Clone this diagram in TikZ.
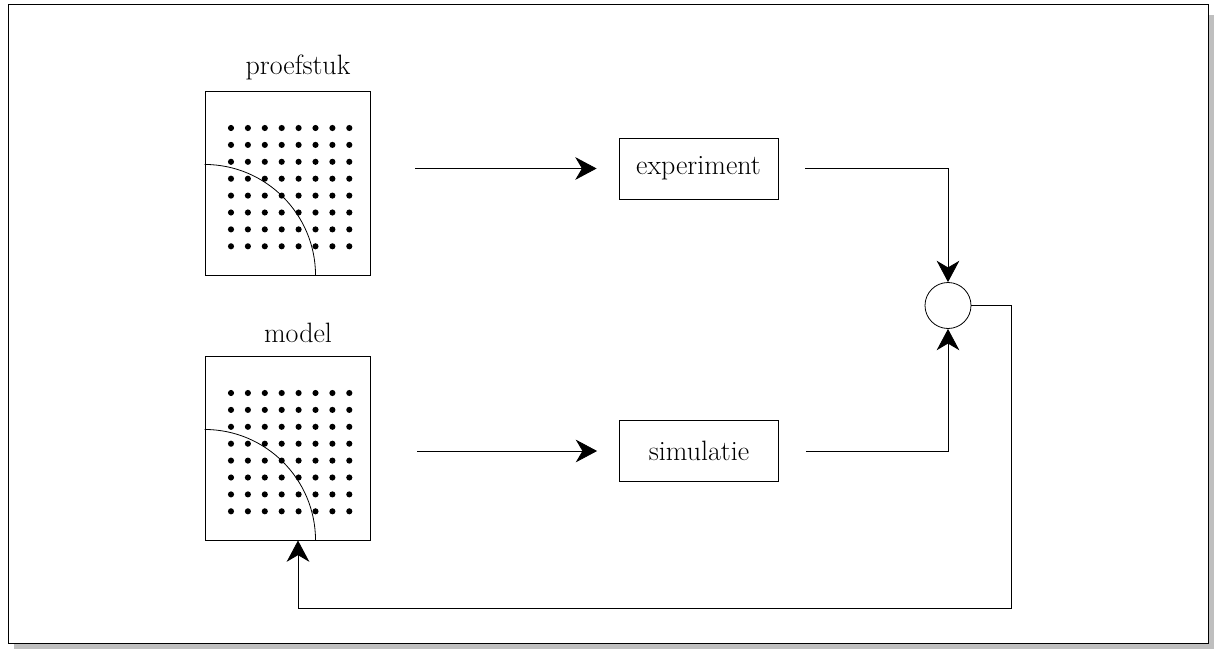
\documentclass[tikz,border=0pt]{standalone}
\usetikzlibrary{arrows.meta,calc}
\begin{document}
\begin{tikzpicture}[x=0.75pt,y=0.75pt,
    every node/.style={font=\fontsize{21}{25}\selectfont},
    plaat/.style={draw,line width=0.7pt,minimum width=123.75pt,minimum height=138pt,inner sep=0pt},
    blok/.style={draw,line width=0.6pt,minimum width=119.25pt,minimum height=45.75pt,inner sep=0pt},
    som/.style={draw,circle,line width=0.6pt,minimum size=34.5pt,inner sep=0pt},
    pijl/.style={line width=0.6pt,-{Stealth[length=16pt,width=17pt,inset=5pt]}}]
        \pgfmathsetmacro{\dotStep}{16.9}
        \pgfmathsetmacro{\arcRadius}{111}
        \useasboundingbox (0,0) rectangle (1216,-649);
        % frame with shadow
        \fill[gray!50] (14,-15) rectangle (1214,-649);
        \filldraw[fill=white,line width=0.7pt] (8,-4) rectangle (1208,-643);
        % plates
        \node[plaat] (proef) at (287.5,-183) {};
        \node[plaat] (model) at (287.5,-448) {};
        \node[anchor=base] (proeflabel) at (298,-75) {proefstuk};
        \node[anchor=base] (modellabel) at (298,-342) {model};
        \foreach \p/\top in {proef/128,model/393}{
            \foreach \i in {0,...,7}
                \foreach \j in {0,...,7}
                    \fill (231+\i*\dotStep,-\top-\j*\dotStep) circle[radius=2.3pt];
            \draw[line width=0.6pt] (\p.south west) ++(0,\arcRadius) arc[start angle=90,end angle=0,radius=\arcRadius*0.75pt];
        }
        % blocks
        \node[blok] (exp) at (698.5,-168.5) {experiment};
        \node[blok] (sim) at (699,-451) {simulatie};
        \node[som] (sum) at (948,-305.5) {};
        \coordinate (terug) at (298,-608);
        % connections
        \draw[pijl,shorten <=33.75pt,shorten >=16.5pt] (proef.east |- exp.west) -- (exp.west);
        \draw[pijl,shorten <=35pt,shorten >=16.5pt] (model.east |- sim.west) -- (sim.west);
        \draw[pijl,shorten <=20.25pt] (exp.east) -| (sum.north);
        \draw[pijl,shorten <=20.25pt] (sim.east) -| (sum.south);
        \draw[pijl] (sum.east) -- ($(sum.east)+(40,0)$) |- (terug) -- (terug |- model.south);
      \end{tikzpicture}
\end{document}
